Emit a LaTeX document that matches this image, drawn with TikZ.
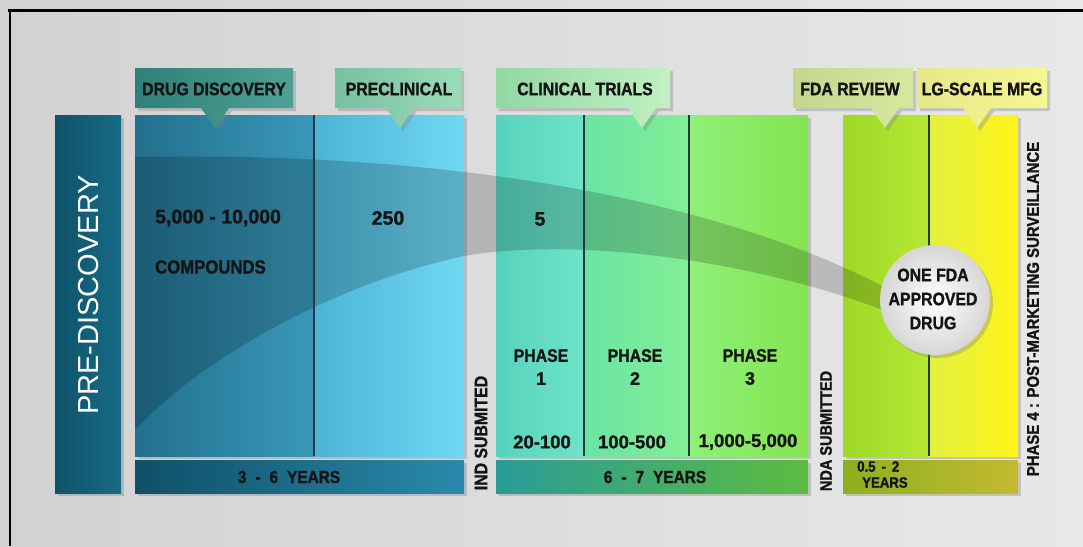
\documentclass[tikz,border=0pt]{standalone}
\usepackage{fontspec}
\setmainfont{Liberation Sans}
\newfontfamily\labf[FakeStretch=0.88,FakeBold=1.3]{Liberation Sans Bold}
\newfontfamily\numf[FakeBold=1.3]{Liberation Sans Bold}
\newfontfamily\regf{Liberation Sans}
\usetikzlibrary{shadows}
\definecolor{bgA}{HTML}{D2D2D2}
\definecolor{bgB}{HTML}{E8E8E8}
\definecolor{txt}{HTML}{141414}
\definecolor{preA}{HTML}{0D5269}
\definecolor{preB}{HTML}{186C86}
\definecolor{ddA}{HTML}{22708D}
\definecolor{ddB}{HTML}{3A98BA}
\definecolor{pcA}{HTML}{4CB4D6}
\definecolor{pcB}{HTML}{70D8F2}
\definecolor{p1A}{HTML}{56D2BC}
\definecolor{p1B}{HTML}{6EE4C8}
\definecolor{p2A}{HTML}{6AE4A4}
\definecolor{p2B}{HTML}{82EE96}
\definecolor{p3A}{HTML}{8EF078}
\definecolor{p3B}{HTML}{84E450}
\definecolor{fdA}{HTML}{9ED828}
\definecolor{fdB}{HTML}{B6E834}
\definecolor{ylA}{HTML}{E2F040}
\definecolor{ylB}{HTML}{FFF418}
\definecolor{y1A}{HTML}{0F5068}
\definecolor{y1B}{HTML}{2A8AAC}
\definecolor{y2A}{HTML}{2A9C98}
\definecolor{y2B}{HTML}{5CBC40}
\definecolor{y3A}{HTML}{8CB020}
\definecolor{y3B}{HTML}{C4BA30}
\definecolor{l1A}{HTML}{2F8078}
\definecolor{l1B}{HTML}{4FA096}
\definecolor{l2A}{HTML}{78C0A0}
\definecolor{l2B}{HTML}{9ADCB8}
\definecolor{l3A}{HTML}{92D8A2}
\definecolor{l3B}{HTML}{C2F0C2}
\definecolor{l4A}{HTML}{C4D68C}
\definecolor{l4B}{HTML}{D8E8A0}
\definecolor{l5A}{HTML}{E6E888}
\definecolor{l5B}{HTML}{F6F692}
\definecolor{divc}{HTML}{24383E}
\newcommand\lbox[5]{%
  \path[lblshape, left color=#4, right color=#5]
    (#1,68) -- (#2,68) -- (#2,108) -- (#3+14,108) -- (#3,128) -- (#3-14,108) -- (#1,108) -- cycle;}
\begin{document}
\begin{tikzpicture}[x=1pt,y=-1pt,
  shad/.style={drop shadow={opacity=0.35,shadow xshift=3pt,shadow yshift=-3pt}},
  lblshape/.style={shad},
  divl/.style={draw=divc,line width=1.6pt},
  lbl/.style={text=txt,font=\labf\fontsize{18}{18}\selectfont,inner sep=0pt},
  numt/.style={text=txt,font=\numf\fontsize{19.5}{19.5}\selectfont,inner sep=0pt},
  vert/.style={text=txt,rotate=90,font=\labf\fontsize{17}{17}\selectfont,inner sep=0pt},
  yrs/.style={text=txt,font=\labf\fontsize{17.5}{17.5}\selectfont,inner sep=0pt},
  small/.style={text=txt,font=\labf\fontsize{15}{16}\selectfont,inner sep=0pt,align=left}]
\useasboundingbox (0,0) rectangle (1083,546);
% background
\path[left color=bgA,right color=bgB] (0,0) rectangle (1083,546);
% frame
\draw[line width=3pt,black] (8,10) -- (1083,10);
\draw[line width=2.5pt,black] (10,10) -- (10,546);
% pre-discovery bar
\path[shad,left color=preA,right color=preB] (55,115) rectangle (121,493);
% drug block
\path[shad,fill=ddB] (135,115) rectangle (464,456);
\path[left color=ddA,right color=ddB] (135,115) rectangle (314,456);
\path[left color=pcA,right color=pcB] (314,115) rectangle (464,456);
\path[shad,left color=y1A,right color=y1B] (135,460) rectangle (464,493);
% clinical block
\path[shad,fill=p3B] (496,115) rectangle (808,456);
\path[left color=p1A,right color=p1B] (496,115) rectangle (584,456);
\path[left color=p2A,right color=p2B] (584,115) rectangle (689,456);
\path[left color=p3A,right color=p3B] (689,115) rectangle (808,456);
\path[shad,left color=y2A,right color=y2B] (496,460) rectangle (808,493);
% FDA block
\path[shad,fill=ylB] (843,115) rectangle (1018,456);
\path[left color=fdA,right color=fdB] (843,115) rectangle (929,456);
\path[left color=ylA,right color=ylB] (929,115) rectangle (1018,456);
\path[shad,left color=y3A,right color=y3B] (843,460) rectangle (1018,493);
% swoosh band
\fill[black,opacity=0.18] (135,157) .. controls (500,150) and (750,215) .. (890,290)
  -- (888,312) .. controls (760,262) and (580,236) .. (464,256)
  .. controls (330,285) and (200,360) .. (135,430) -- cycle;
% dividers
\draw[divl] (314,115) -- (314,456);
\draw[divl] (584,115) -- (584,456);
\draw[divl] (689,115) -- (689,456);
\draw[divl] (929,115) -- (929,456);
% label boxes
\lbox{135}{293}{215}{l1A}{l1B}
\lbox{335}{461}{400}{l2A}{l2B}
\lbox{496}{670}{642}{l3A}{l3B}
\lbox{793}{913}{885}{l4A}{l4B}
\lbox{917}{1047}{977}{l5A}{l5B}
\node[lbl] (tdd) at (214,89) {DRUG DISCOVERY};
\node[lbl] (tpc) at (399,89) {PRECLINICAL};
\node[lbl] (tct) at (585,89) {CLINICAL TRIALS};
\node[lbl] (tfr) at (850,89) {FDA REVIEW};
\node[lbl] (tlg) at (982,89) {LG-SCALE MFG};
% pre-discovery text
\node[rotate=90,text=white,font=\regf\fontsize{29}{29}\selectfont,inner sep=0pt] (pre) at (89,295) {PRE-DISCOVERY};
% numbers
\node[numt,anchor=west] (n1) at (155,218) {5,000 - 10,000};
\node[lbl,anchor=west,font=\labf\fontsize{19}{19}\selectfont] (cmp) at (155,267) {COMPOUNDS};
\node[numt] (n2) at (388,218) {250};
\node[numt] (n3) at (540,219) {5};
\node[lbl,align=center] (ph1) at (541,367) {PHASE\\[5pt]{\numf 1}};
\node[lbl,align=center] (ph2) at (635,367) {PHASE\\[5pt]{\numf 2}};
\node[lbl,align=center] (ph3) at (750,367) {PHASE\\[5pt]{\numf 3}};
\node[numt,font=\numf\fontsize{18.5}{18.5}\selectfont] (c1) at (542,442) {20-100};
\node[numt,font=\numf\fontsize{18.5}{18.5}\selectfont] (c2) at (632,442) {100-500};
\node[numt,font=\numf\fontsize{18.5}{18.5}\selectfont] (c3) at (748,442) {1,000-5,000};
% years
\node[yrs] (yr1) at (289,477) {3\hspace{9pt}-\hspace{9pt}6\hspace{9pt}YEARS};
\node[yrs] (yr2) at (655,477) {6\hspace{9pt}-\hspace{9pt}7\hspace{9pt}YEARS};
\node[small,anchor=north west] (yr3) at (857,461) {0.5\hspace{6pt}-\hspace{6pt}2\\\hspace{5pt}YEARS};
% vertical texts
\node[vert,font=\labf\fontsize{18}{18}\selectfont] (ind) at (481,433) {IND SUBMITED};
\node[vert,font=\labf\fontsize{16.5}{16.5}\selectfont] (nda) at (826,431) {NDA SUBMITTED};
\node[vert] (ph4) at (1033,309) {PHASE 4 : POST-MARKETING SURVEILLANCE};
% approved drug ball
\node[circle,minimum size=110pt,inner sep=0pt,shad,inner color=white,outer color=black!16] (ball) at (935,300) {};
\node[lbl,align=center] (balltxt) at (933,299) {ONE FDA\\[6pt]APPROVED\\[6pt]DRUG};
\end{tikzpicture}
\end{document}
